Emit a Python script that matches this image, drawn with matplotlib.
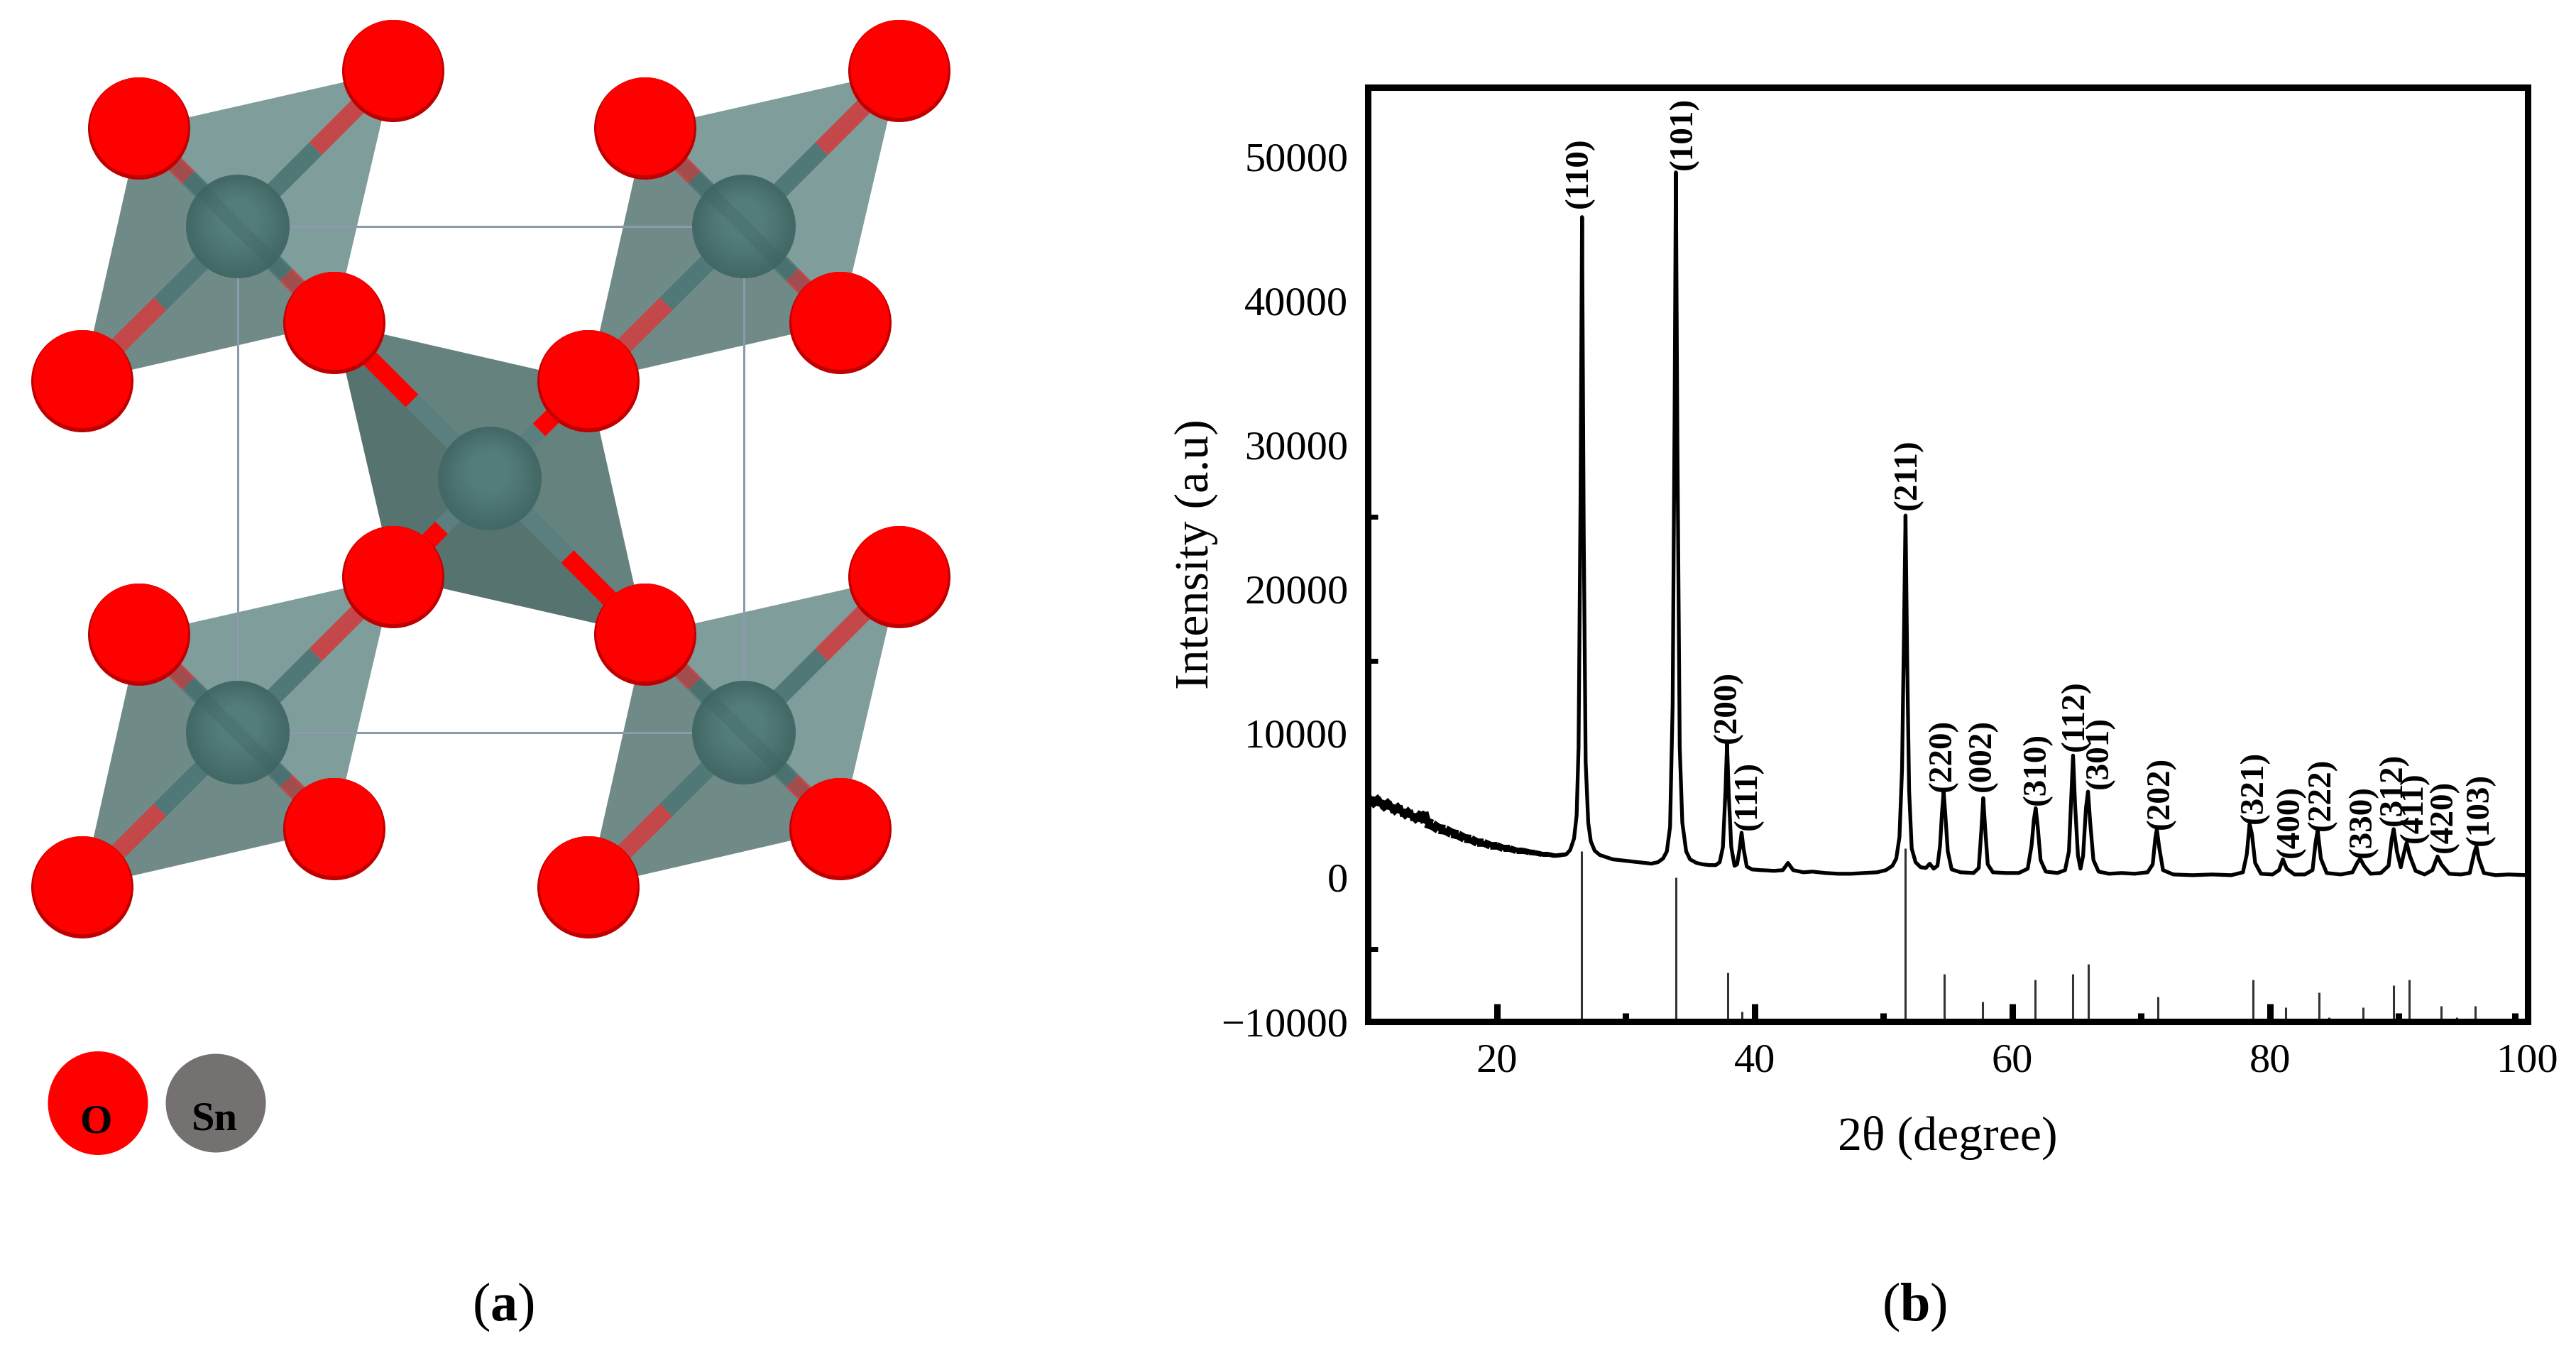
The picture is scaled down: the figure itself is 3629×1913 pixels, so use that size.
import numpy as np
import matplotlib
matplotlib.use('Agg')
import matplotlib.pyplot as plt
from matplotlib.collections import LineCollection
from matplotlib.patches import Circle, Ellipse, Polygon

xrd_points = [
    (10.0, 5300), (10.4, 5500), (10.8, 5050), (11.2, 5250), (11.6, 4800), (12.0, 4950), (12.4, 4550),
    (12.8, 4650), (13.2, 4250), (13.6, 4350), (14.0, 3950), (14.3, 4500), (14.5, 3800), (15.0, 3650),
    (15.5, 3350), (16.0, 3300), (16.5, 3050), (17.0, 2950), (17.5, 2700), (18.0, 2650), (18.5, 2400),
    (19.0, 2400), (19.5, 2200), (20.0, 2200), (20.5, 2000), (21.0, 2000), (21.5, 1850), (22.0, 1850),
    (22.5, 1750), (23.0, 1700), (23.5, 1600), (24.0, 1600), (24.5, 1500), (25.0, 1550), (25.4, 1600),
    (25.7, 1900), (26.0, 2700), (26.2, 4300), (26.35, 9000), (26.5, 26000), (26.62, 45800), (26.75, 24000),
    (26.9, 8000), (27.1, 3800), (27.3, 2500), (27.6, 1850), (28.0, 1550), (28.5, 1400), (29.0, 1250),
    (29.5, 1200), (30.0, 1150), (30.5, 1100), (31.0, 1050), (31.5, 1000), (32.0, 950), (32.5, 1050),
    (32.9, 1300), (33.2, 1800), (33.45, 3500), (33.65, 12000), (33.8, 32000), (33.9, 48900), (34.02, 30000),
    (34.2, 9000), (34.4, 3800), (34.7, 1800), (35.0, 1250), (35.5, 1000), (36.0, 900), (36.5, 850),
    (37.0, 850), (37.3, 1050), (37.55, 2100), (37.75, 6000), (37.87, 9300), (38.0, 5800), (38.2, 2100),
    (38.45, 800), (38.65, 900), (38.85, 2000), (39.0, 3100), (39.15, 2000), (39.4, 750), (39.8, 550),
    (40.5, 500), (41.0, 480), (41.5, 450), (42.2, 500), (42.6, 1000), (43.0, 500), (43.8, 350),
    (44.5, 400), (45.5, 300), (46.5, 250), (47.5, 250), (48.5, 300), (49.5, 350), (50.2, 500),
    (50.7, 800), (51.0, 1300), (51.25, 2800), (51.45, 7500), (51.6, 17000), (51.72, 25100), (51.85, 15000),
    (52.0, 6000), (52.2, 2000), (52.5, 1050), (52.9, 700), (53.3, 650), (53.6, 950), (53.9, 600),
    (54.2, 800), (54.4, 2200), (54.55, 4500), (54.68, 5950), (54.82, 4200), (55.0, 1800), (55.3, 550),
    (56.0, 350), (57.0, 300), (57.4, 650), (57.6, 3200), (57.75, 5500), (57.9, 3400), (58.1, 900),
    (58.5, 350), (59.5, 300), (60.5, 300), (61.2, 600), (61.5, 2200), (61.68, 4000), (61.82, 4800),
    (61.98, 3500), (62.2, 1200), (62.6, 400), (63.5, 300), (64.1, 500), (64.4, 1800), (64.6, 6000),
    (64.72, 8450), (64.88, 5000), (65.1, 1500), (65.3, 600), (65.5, 1500), (65.72, 4800), (65.88, 5950),
    (66.05, 3800), (66.3, 1200), (66.7, 400), (67.5, 250), (68.5, 300), (69.5, 250), (70.5, 350),
    (70.9, 900), (71.1, 2700), (71.22, 3350), (71.4, 2100), (71.7, 500), (72.5, 200), (74.0, 150),
    (75.5, 200), (77.0, 150), (77.9, 350), (78.2, 1600), (78.42, 3700), (78.6, 3000), (78.85, 1000),
    (79.3, 250), (80.2, 200), (80.7, 500), (81.0, 1250), (81.3, 600), (81.9, 200), (82.7, 200),
    (83.3, 500), (83.55, 2500), (83.7, 3250), (83.95, 1300), (84.4, 300), (85.5, 200), (86.4, 350),
    (86.8, 1050), (87.0, 1300), (87.3, 800), (87.8, 250), (88.6, 300), (89.2, 800), (89.45, 2700),
    (89.6, 3350), (89.85, 1800), (90.15, 700), (90.4, 1700), (90.6, 2400), (90.85, 1500), (91.3, 450),
    (92.0, 200), (92.6, 500), (93.0, 1450), (93.3, 900), (93.9, 250), (94.8, 200), (95.5, 300),
    (95.85, 1700), (96.02, 2150), (96.2, 1300), (96.6, 300), (97.5, 150), (98.5, 200), (100.0, 150),
]

# reference pattern sticks
stick_pos = [26.6, 33.9, 37.9, 39.0, 51.7, 54.7, 57.7, 61.8, 62.9, 64.7, 65.9, 69.2, 71.3, 72.0, 74.5,
             78.7, 81.2, 83.8, 84.6, 87.2, 89.6, 90.8, 93.3, 94.5, 95.9]
stick_top = [1800, 0, -6600, -9300, 2000, -6700, -8600, -7100, -9800, -6700, -6000, -9800, -8300, -9800, -9800,
             -7100, -9000, -8000, -9700, -9000, -7500, -7100, -8900, -9700, -8900]

# miller index labels and where they sit
hkl_labels = ['(110)', '(101)', '(200)', '(111)', '(211)', '(220)', '(002)', '(310)', '(112)', '(301)',
              '(202)', '(321)', '(400)', '(222)', '(330)', '(312)', '(411)', '(420)', '(103)']
hkl_x = [26.4, 34.5, 37.9, 39.5, 51.9, 54.6, 57.7, 61.9, 64.9, 66.8,
         71.5, 78.8, 81.6, 84.0, 87.2, 89.6, 91.2, 93.5, 96.3]
hkl_y = [46450, 49100, 9300, 3300, 25500, 5950, 5950, 5000, 8780, 6170,
         3350, 3740, 1380, 3250, 1380, 3600, 2420, 1730, 2220]

x_major = [20, 40, 60, 80, 100]
x_minor = [30, 50, 70, 90, 99]
y_major = [-10000, 0, 10000, 20000, 30000, 40000, 50000]
y_minor = [-5000, 15000, 25000]

# crystal structure, figure pixels
o_base = [(196, 181), (554, 100), (116, 537), (471, 455)]
sn_base = (335, 319)
cell_shift = [(0, 0), (713, 0), (0, 713), (713, 713)]
sn_center = (690, 674)
o_center = [(471, 455), (829, 537), (909, 894), (554, 813)]
cell_corners = [(335, 319), (1048, 319), (1048, 1032), (335, 1032)]

W, H = 3630, 1913
plt.rcParams['font.family'] = ['Liberation Serif', 'DejaVu Serif']
plt.rcParams['mathtext.fontset'] = 'custom'
plt.rcParams['mathtext.rm'] = 'Liberation Serif'
plt.rcParams['mathtext.bf'] = 'Liberation Serif:bold'

fig = plt.figure(figsize=(W / 100, H / 100), dpi=100, facecolor='white')

# left panel, drawn in pixels
s = fig.add_axes([0, 0, 1, 1])
s.set_xlim(0, W)
s.set_ylim(H, 0)
s.axis('off')


def shift(p, d):
    return (p[0] + d[0], p[1] + d[1])


def bond(a, b, c1, c2, z):
    m = ((a[0] + b[0]) / 2, (a[1] + b[1]) / 2)
    s.plot([a[0], m[0]], [a[1], m[1]], color=c1, lw=18, solid_capstyle='butt', zorder=z)
    s.plot([m[0], b[0]], [m[1], b[1]], color=c2, lw=18, solid_capstyle='butt', zorder=z)


def o_atom(p, z):
    s.add_patch(Circle(p, 72, color='#c00000', lw=0, zorder=z))
    s.add_patch(Circle((p[0], p[1] - 3), 69, color='#ff0000', lw=0, zorder=z))


def sn_atom(p, z):
    # soft sphere from stacked discs
    dark = np.array([0.26, 0.41, 0.40])
    light = np.array([0.33, 0.49, 0.48])
    for i in range(12):
        t = i / 11
        s.add_patch(Circle((p[0], p[1] - 10 * t), 73 - 45 * t, color=dark + (light - dark) * t, lw=0, zorder=z))


for d in cell_shift:
    o = [shift(p, d) for p in o_base]
    c = shift(sn_base, d)
    s.add_patch(Polygon([o[0], o[1], o[3]], color='#7f9d9a', lw=0, zorder=1))
    s.add_patch(Polygon([o[0], o[3], o[2]], color='#6f8a87', lw=0, zorder=1))
    for p in o:
        bond(c, p, '#4f7876', '#c4474a', 3)
    for p in o:
        o_atom(p, 5)
    sn_atom(c, 4)
    # front bond shows faintly across the sphere
    s.plot([o[0][0], o[3][0]], [o[0][1], o[3][1]], color='#3c5f5d', lw=14, alpha=0.25,
           solid_capstyle='butt', zorder=4.5)

s.add_patch(Polygon([o_center[0], o_center[1], o_center[2]], color='#66827f', lw=0, zorder=2))
s.add_patch(Polygon([o_center[0], o_center[2], o_center[3]], color='#567370', lw=0, zorder=2))
for p in o_center:
    bond(sn_center, p, '#5b7f7f', '#ff0000', 3)
sn_atom(sn_center, 4)

cx, cy = zip(*(cell_corners + cell_corners[:1]))
s.plot(cx, cy, color='#8c9bab', lw=2.2, zorder=2)

# atom key
s.add_patch(Ellipse((138, 1554), 141, 146, color='#ff0000', lw=0))
s.add_patch(Ellipse((304, 1554), 141, 139, color='#767171', lw=0))
s.text(135, 1581, 'O', fontsize=42, fontweight='bold', ha='center', va='center', color='black')
s.text(302, 1578, 'Sn', fontsize=42, fontweight='bold', ha='center', va='center', color='black')

s.text(709, 1841, r'($\mathbf{a}$)', fontsize=55, ha='center', va='center', color='black')
s.text(2697, 1841, r'($\mathbf{b}$)', fontsize=55, ha='center', va='center', color='black')

# right panel
ax = fig.add_axes([1927 / W, 1 - 1439 / H, (3561 - 1927) / W, (1439 - 123) / H])
ax.patch.set_alpha(0)
xrd = np.array(xrd_points)
ax.plot(xrd[:, 0], xrd[:, 1], color='black', lw=3.8, solid_joinstyle='round')
# trace gets noisier (thicker) toward low angle
low = xrd[xrd[:, 0] <= 25.4]
segs = np.stack([low[:-1], low[1:]], axis=1)
ax.add_collection(LineCollection(segs, colors='black', linewidths=np.interp(low[:-1, 0], [10, 20, 25.4], [13, 7.5, 3.8])))
ax.vlines(stick_pos, -10000, stick_top, color='#333333', lw=2.2)
for lab, x, y in zip(hkl_labels, hkl_x, hkl_y):
    ax.text(x, y, lab, rotation=90, fontsize=34, fontweight='bold', ha='center', va='bottom', color='black')

ax.set_xlim(10, 100)
ax.set_ylim(-10000, 54800)
ax.set_xticks(x_major)
ax.set_xticks(x_minor, minor=True)
ax.set_yticks(y_major)
ax.set_yticks(y_minor, minor=True)
ax.tick_params(axis='x', which='major', direction='in', length=18, width=6.5, labelsize=42, pad=22)
ax.tick_params(axis='x', which='minor', direction='in', length=9, width=6.5)
ax.tick_params(axis='y', which='major', length=0, labelsize=42, pad=20)
ax.tick_params(axis='y', which='minor', direction='in', length=10, width=5)
for sp in ax.spines.values():
    sp.set_linewidth(6.5)
ax.set_xlabel('2θ (degree)', fontsize=49, labelpad=36)
ax.set_ylabel('Intensity (a.u)', fontsize=49, labelpad=3)

fig.savefig('out.png', dpi=100, facecolor='white')
